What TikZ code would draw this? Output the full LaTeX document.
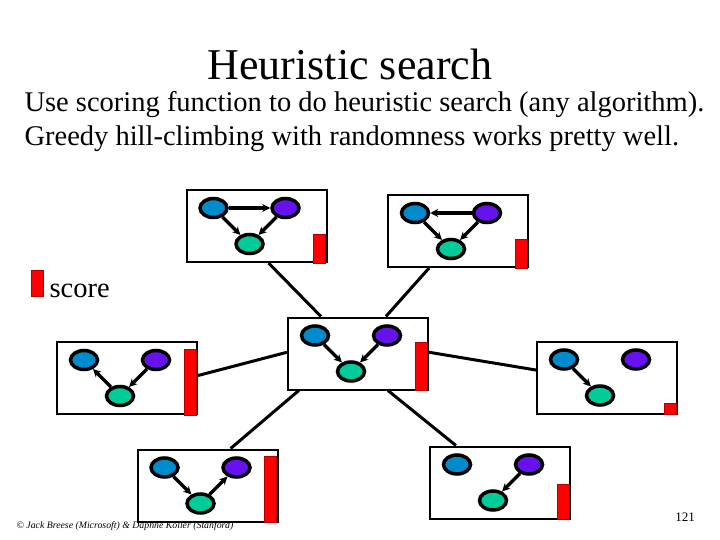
\documentclass[tikz,border=0pt]{standalone}
\usepackage{fontspec}
\setmainfont{Liberation Serif}
\usetikzlibrary{arrows.meta,shapes.geometric}
\definecolor{netblue}{RGB}{0,140,204}
\definecolor{netpurple}{RGB}{102,17,238}
\definecolor{netgreen}{RGB}{0,204,153}
\tikzset{
  frame/.style={draw,line width=2pt,minimum width=140pt,minimum height=72pt,inner sep=0pt},
  var/.style={ellipse,draw,line width=3.5pt,minimum width=27pt,minimum height=19pt,inner sep=0pt},
  dep/.style={draw,line width=3.2pt,-{Stealth[length=8pt,width=8pt]}},
  link/.style={draw,line width=3pt},
  bar/.style={fill=red,draw=red!70!black,line width=0.4pt},
}
% one network: frame #1 centred at (#2,#3), score bar #4 high
\newcommand{\netbox}[4]{%
  \node[frame] (#1) at (#2,#3) {};
  \node[var,fill=netblue] (#1a) at ([shift={(-43,-18)}]#1.center) {};
  \node[var,fill=netpurple] (#1b) at ([shift={(29,-18)}]#1.center) {};
  \node[var,fill=netgreen] (#1c) at ([shift={(-7,18)}]#1.center) {};
  \path[bar] ([shift={(-14,-#4)}]#1.south east) rectangle ([xshift=-2]#1.south east);
}
\begin{document}
\begin{tikzpicture}[x=1pt,y=-1pt]
\useasboundingbox (0,0) rectangle (720,540);
\node[anchor=base,font=\fontsize{44}{50}\selectfont] (title) at (350,80) {Heuristic search};
\node[anchor=base west,font=\fontsize{28.5}{34}\selectfont] (line1) at (21,112) {Use scoring function to do heuristic search (any algorithm).};
\node[anchor=base west,font=\fontsize{28.5}{34}\selectfont] (line2) at (21,146) {Greedy hill-climbing with randomness works pretty well.};
% legend
\path[bar] (31,270) rectangle (43,296);
\node[anchor=base west,font=\fontsize{28.5}{34}\selectfont] (score) at (46,297) {score};
% the seven networks
\netbox{b1}{256.5}{226}{29}
\netbox{b2}{458}{231}{29}
\netbox{c}{358}{353.5}{48}
\netbox{b4}{127}{378}{66}
\netbox{b5}{607}{377.5}{11}
\netbox{b6}{207.5}{485.5}{66}
\netbox{b7}{500}{482.5}{35}
\path[dep] (b1a) -- (b1b);
\path[dep] (b1a) -- (b1c);
\path[dep] (b1b) -- (b1c);
\path[dep] (b2b) -- (b2a);
\path[dep] (b2a) -- (b2c);
\path[dep] (b2b) -- (b2c);
\path[dep] (ca) -- (cc);
\path[dep] (cb) -- (cc);
\path[dep] (b4c) -- (b4a);
\path[dep] (b4b) -- (b4c);
\path[dep] (b5a) -- (b5c);
\path[dep] (b6a) -- (b6c);
\path[dep] (b6c) -- (b6b);
\path[dep] (b7b) -- (b7c);
% neighbours of the current network
\path[link] (b1.-72) -- (c.135);
\path[link] (b2.-128) -- (c.53);
\path[link] (b4.2) -- (c.179);
\path[link] (c.1) -- (b5.174);
\path[link] (b6.58) -- (c.-148);
\path[link] (c.-51) -- (b7.140);
\node[anchor=base west,font=\fontsize{9.8}{11}\selectfont\itshape] (credit) at (13,528) {\textcopyright{} Jack Breese (Microsoft) \& Daphne Koller (Stanford)};
\node[font=\fontsize{13}{14}\selectfont] (page) at (685,517) {121};
\end{tikzpicture}
\end{document}
